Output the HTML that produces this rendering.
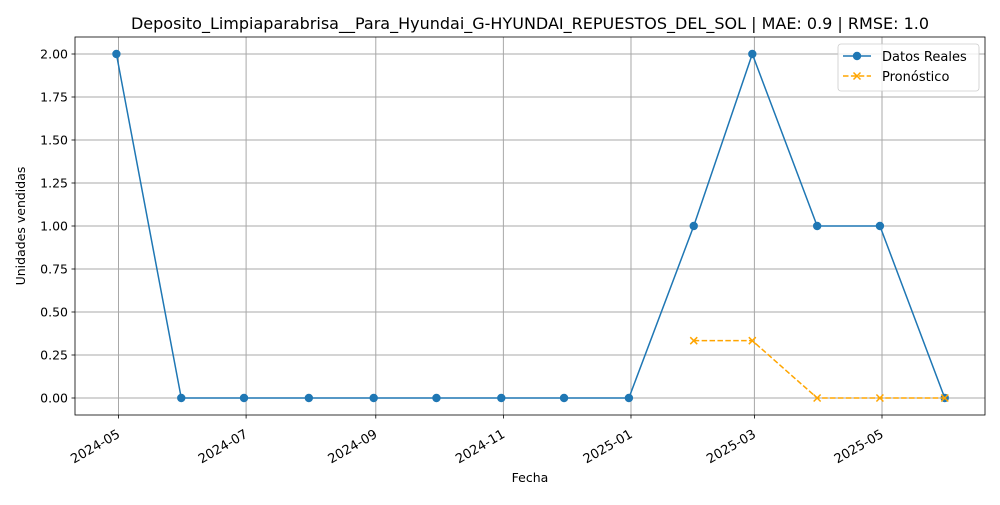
<!DOCTYPE html>
<html><head><meta charset="utf-8"><style>
body{margin:0;background:#fff;}
text{font-family:"DejaVu Sans","Liberation Sans",sans-serif;}
</style></head><body>
<svg id="chart" width="1000" height="500" xmlns="http://www.w3.org/2000/svg">
<rect width="1000" height="500" fill="#fff"/>
</svg>
<script>
const dates = ["2024-04-30","2024-05-31","2024-06-30","2024-07-31","2024-08-31","2024-09-30","2024-10-31","2024-11-30","2024-12-31","2025-01-31","2025-02-28","2025-03-31","2025-04-30","2025-05-31"];
const actual = [2,0,0,0,0,0,0,0,0,1,2,1,1,0];
const fcDates = ["2025-01-31","2025-02-28","2025-03-31","2025-04-30","2025-05-31"];
const forecast = [0.3333,0.3333,0,0,0];
const xTicks = ["2024-05-01","2024-07-01","2024-09-01","2024-11-01","2025-01-01","2025-03-01","2025-05-01"];
const xTickLabels = ["2024-05","2024-07","2024-09","2024-11","2025-01","2025-03","2025-05"];
const yTicks = [0,0.25,0.5,0.75,1,1.25,1.5,1.75,2];

const svg = document.getElementById('chart');
const NS = "http://www.w3.org/2000/svg";
const L=75,R=985,T=37,B=415;
const d0=Date.parse("2024-05-01"), d1=Date.parse("2025-05-01");
function x(d){return 118.5+(Date.parse(d)-d0)/(d1-d0)*763.5;}
function y(v){return 398-v*172;}
function mk(tag,attrs,parent){const e=document.createElementNS(NS,tag);for(const k in attrs)e.setAttribute(k,attrs[k]);(parent||svg).appendChild(e);return e;}

yTicks.forEach((v,i)=>{
  const g=mk('line',{x1:L,x2:R,y1:y(v),y2:y(v),stroke:'#a8a8a8','stroke-width':1});
  
  
  mk('line',{x1:L-3.5,x2:L,y1:y(v),y2:y(v),stroke:'#000','stroke-width':0.8});
  const t=mk('text',{x:L-7,y:y(v)+4.5,'text-anchor':'end','font-size':12.5,fill:'#000'});
  t.textContent=v.toFixed(2);
  
  
});
xTicks.forEach((d,i)=>{
  const xx=x(d);
  const g=mk('line',{x1:xx,x2:xx,y1:T,y2:B,stroke:'#a8a8a8','stroke-width':1});
  
  
  mk('line',{x1:xx,x2:xx,y1:B,y2:B+3.5,stroke:'#000','stroke-width':0.8});
  const ax=xx-2, ay=B+14;
  const t=mk('text',{x:ax,y:ay,'text-anchor':'end','dominant-baseline':'hanging','font-size':13,fill:'#000',transform:`rotate(-30 ${ax} ${ay})`});
  t.textContent=xTickLabels[i];
  
  
});
const fr=mk('rect',{x:L,y:T,width:R-L,height:B-T,fill:'none',stroke:'#000','stroke-width':0.8});



const pa=mk('polyline',{points:dates.map((d,i)=>x(d)+','+y(actual[i])).join(' '),fill:'none',stroke:'#1f77b4','stroke-width':1.5});


dates.forEach((d,i)=>{
  const c=mk('circle',{cx:x(d),cy:y(actual[i]),r:4.2,fill:'#1f77b4'});
  
  
});
const pf=mk('polyline',{points:fcDates.map((d,i)=>x(d)+','+y(forecast[i])).join(' '),fill:'none',stroke:'#ffa500','stroke-width':1.5,'stroke-dasharray':'5.5,2.4'});


fcDates.forEach((d,i)=>{
  const cx=x(d),cy=y(forecast[i]);
  const g=mk('path',{d:`M${cx-3.5},${cy-3.5}L${cx+3.5},${cy+3.5}M${cx-3.5},${cy+3.5}L${cx+3.5},${cy-3.5}`,stroke:'#ffa500','stroke-width':1.5});
  
  
});

const ti=mk('text',{x:530,y:29,'text-anchor':'middle','font-size':16,fill:'#000'});
ti.textContent="Deposito_Limpiaparabrisa__Para_Hyundai_G-HYUNDAI_REPUESTOS_DEL_SOL | MAE: 0.9 | RMSE: 1.0";


const xt=mk('text',{x:530,y:482,'text-anchor':'middle','font-size':12.5,fill:'#000'});
xt.textContent="Fecha";


const yt=mk('text',{x:25,y:226,'text-anchor':'middle','font-size':12.5,fill:'#000',transform:'rotate(-90 25 226)'});
yt.textContent="Unidades vendidas";



const lg=mk('g',{});


mk('rect',{x:838,y:44,width:141,height:47,rx:3,fill:'#fff','fill-opacity':0.8,stroke:'#ccc','stroke-width':0.8},lg);
mk('line',{x1:843,x2:871,y1:56,y2:56,stroke:'#1f77b4','stroke-width':1.5},lg);
mk('circle',{cx:857,cy:56,r:4.2,fill:'#1f77b4'},lg);
const l1=mk('text',{x:882,y:61,'font-size':13,fill:'#000'},lg);
l1.textContent="Datos Reales";


mk('line',{x1:843,x2:871,y1:76,y2:76,stroke:'#ffa500','stroke-width':1.5,'stroke-dasharray':'5.5,2.4'},lg);
mk('path',{d:'M853.5,72.5L860.5,79.5M853.5,79.5L860.5,72.5',stroke:'#ffa500','stroke-width':1.5},lg);
const l2=mk('text',{x:882,y:81,'font-size':13,fill:'#000'},lg);
l2.textContent="Pronóstico";


</script>
</body></html>
